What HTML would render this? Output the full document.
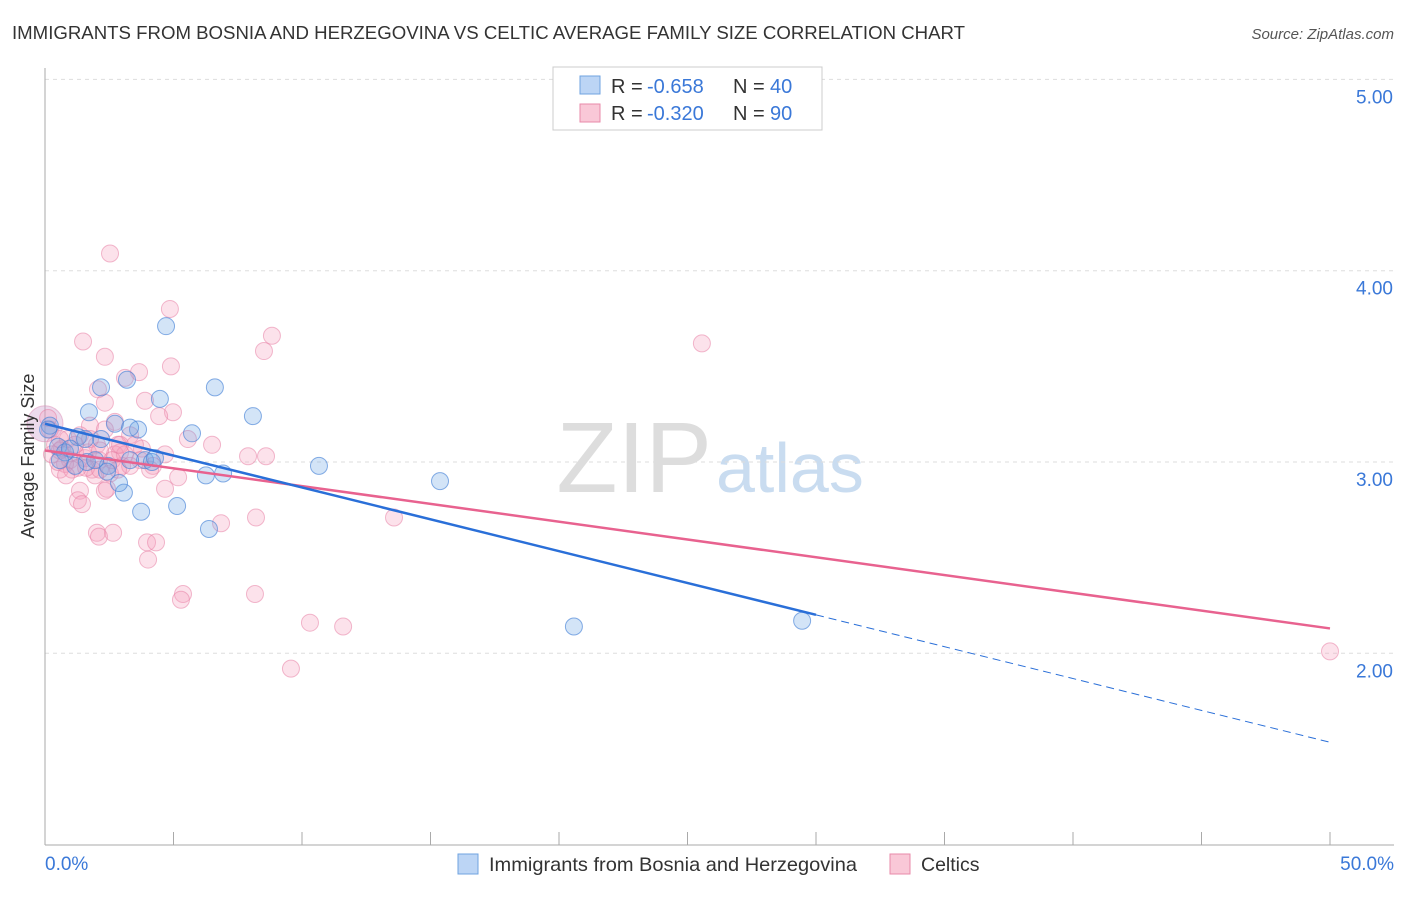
<!DOCTYPE html>
<html><head><meta charset="utf-8"><style>
body{margin:0;background:#fff;font-family:"Liberation Sans",sans-serif;}
svg text{font-family:"Liberation Sans",sans-serif;}
</style></head><body>
<svg id="chart" width="1406" height="892" xmlns="http://www.w3.org/2000/svg">
<text x="12" y="39" font-size="18" fill="#333" textLength="953" lengthAdjust="spacingAndGlyphs">IMMIGRANTS FROM BOSNIA AND HERZEGOVINA VS CELTIC AVERAGE FAMILY SIZE CORRELATION CHART</text>
<text x="1394" y="39" font-size="15" fill="#555" font-style="italic" text-anchor="end">Source: ZipAtlas.com</text>
<text x="712" y="492" font-size="100" fill="#ddd" font-family="Liberation Serif" text-anchor="end">ZIP</text>
<text x="716" y="492" font-size="70" fill="#c9dcf0">atlas</text>
<g id="grid"></g>
<g id="axes"></g>
<g id="marks"></g>
<text transform="translate(34,456) rotate(-90)" font-size="18" fill="#333" text-anchor="middle">Average Family Size</text>
<g>
<rect x="553" y="67" width="269" height="63" fill="#fff" stroke="#ccc"/>
<rect x="580" y="76" width="20" height="18" fill="#bcd5f5" stroke="#6fa3e0"/>
<text x="611" y="93" font-size="20" fill="#333">R =</text>
<text x="647" y="93" font-size="20" fill="#3a78d8">-0.658</text>
<text x="733" y="93" font-size="20" fill="#333">N =</text>
<text x="770" y="93" font-size="20" fill="#3a78d8">40</text>
<rect x="580" y="104" width="20" height="18" fill="#f9c8d7" stroke="#e88aaa"/>
<text x="611" y="120" font-size="20" fill="#333">R =</text>
<text x="647" y="120" font-size="20" fill="#3a78d8">-0.320</text>
<text x="733" y="120" font-size="20" fill="#333">N =</text>
<text x="770" y="120" font-size="20" fill="#3a78d8">90</text>
</g>
<g>
<rect x="458" y="854" width="20" height="20" fill="#bcd5f5" stroke="#6fa3e0"/>
<text x="489" y="871" font-size="19.5" fill="#333" textLength="368" lengthAdjust="spacingAndGlyphs">Immigrants from Bosnia and Herzegovina</text>
<rect x="890" y="854" width="20" height="20" fill="#f9c8d7" stroke="#e88aaa"/>
<text x="921" y="871" font-size="19.5" fill="#333">Celtics</text>
</g>
</svg>
<script>
const yTicks=[2,3,4,5];
const yTickLabels=["2.00","3.00","4.00","5.00"];
const xTickLabels=["0.0%","50.0%"];
const blueX=[2.18,3.19,4.71,4.47,6.61,8.09,1.71,2.72,3.62,3.31,5.72,1.28,2.18,0.51,0.78,1.63,2.45,3.07,2.88,3.74,5.14,3.89,4.16,2.41,6.38,6.26,6.93,10.66,15.37,20.58,29.46,0.19,0.12,0.97,1.95,0.58,3.31,1.56,1.17,4.28];
const blueY=[3.39,3.43,3.71,3.33,3.39,3.24,3.26,3.20,3.17,3.18,3.15,3.13,3.12,3.08,3.05,3.00,2.98,2.84,2.89,2.74,2.77,3.01,3.00,2.95,2.65,2.93,2.94,2.98,2.90,2.14,2.17,3.19,3.17,3.07,3.01,3.01,3.01,3.12,2.98,3.02];
const pinkX=[2.53,4.86,8.83,8.52,1.48,2.33,4.90,3.66,3.11,2.06,2.33,3.89,4.98,4.44,2.72,1.75,5.56,6.50,3.31,2.02,2.84,7.90,8.60,2.92,3.77,0.66,1.17,1.56,0.97,2.10,0.58,1.28,0.78,4.20,5.18,3.00,2.53,1.36,2.41,4.67,1.28,1.44,2.33,6.85,8.21,13.58,2.02,2.10,2.65,3.97,4.32,4.01,5.37,5.29,8.17,10.31,11.60,9.57,25.56,50.0,0.12,0.19,0.39,0.27,0.89,1.83,0.58,1.05,1.67,2.72,3.11,2.92,2.14,3.50,3.70,2.33,1.36,1.95,0.58,3.31,4.67,4.09,0.51,0.82,1.60,2.61,2.84,1.17,1.75,2.14];
const pinkY=[4.09,3.80,3.66,3.58,3.63,3.55,3.50,3.47,3.44,3.38,3.31,3.32,3.26,3.24,3.21,3.19,3.12,3.09,3.14,3.09,3.09,3.03,3.03,3.05,3.07,3.07,3.05,3.02,3.01,3.01,2.96,2.97,2.99,2.98,2.92,2.98,2.94,2.85,2.86,2.86,2.80,2.78,2.85,2.68,2.71,2.71,2.63,2.61,2.63,2.58,2.58,2.49,2.31,2.28,2.31,2.16,2.14,1.92,3.62,2.01,3.23,3.17,3.09,3.04,3.12,2.96,3.06,2.96,3.05,3.04,3.04,3.09,3.06,3.09,3.01,3.17,3.14,2.93,3.12,2.98,3.04,2.96,3.00,2.93,2.97,3.01,2.96,3.09,3.12,2.96];
const blueTrend=[3.20,-0.0333];
const pinkTrend=[3.06,-0.0186];
const NS="http://www.w3.org/2000/svg";
const X0=45,X1=1330,YB=845;
function xs(v){return X0+(X1-X0)*v/50;}
function ys(v){return 462-(v-3)*191.3;}
function mk(tag,attrs,parent){const e=document.createElementNS(NS,tag);for(const k in attrs)e.setAttribute(k,attrs[k]);parent.appendChild(e);return e;}
const grid=document.getElementById('grid'),axes=document.getElementById('axes'),marks=document.getElementById('marks');
yTicks.forEach((t,i)=>{
 const l=mk('line',{x1:X0,x2:1394,y1:ys(t),y2:ys(t),stroke:'#ddd','stroke-dasharray':'4,4'},grid);
 
 
 const tx=mk('text',{x:1393,y:ys(t)+24,'font-size':19,fill:'#3a78d8','text-anchor':'end'},axes);
 tx.textContent=yTickLabels[i];
 
 
});
const al=mk('line',{x1:X0,x2:X0,y1:68,y2:YB,stroke:'#aaa'},axes);


const bl=mk('line',{x1:X0,x2:1394,y1:YB,y2:YB,stroke:'#aaa'},axes);


for(let i=0;i<=10;i++){
 const t=mk('line',{x1:xs(i*5),x2:xs(i*5),y1:832,y2:YB,stroke:'#aaa'},axes);
 
 
}
[[0,'start',45],[50,'end',1394]].forEach((d,i)=>{
 const t=mk('text',{x:d[2],y:870,'font-size':19,fill:'#3a78d8','text-anchor':d[1]},axes);
 t.textContent=xTickLabels[i];
 
 
});
const big=mk('circle',{cx:xs(0),cy:ys(3.2),r:18,fill:'rgba(200,150,200,0.35)',stroke:'rgba(220,140,180,0.5)'},marks);


pinkX.forEach((x,i)=>{
 const c=mk('circle',{cx:xs(x),cy:ys(pinkY[i]),r:8.5,fill:'rgba(245,160,190,0.3)',stroke:'rgba(232,130,165,0.55)'},marks);
 
 
});
blueX.forEach((x,i)=>{
 const c=mk('circle',{cx:xs(x),cy:ys(blueY[i]),r:8.5,fill:'rgba(110,165,230,0.3)',stroke:'rgba(70,130,215,0.65)'},marks);
 
 
});
const pl=mk('line',{x1:xs(0),y1:ys(pinkTrend[0]),x2:xs(50),y2:ys(pinkTrend[0]+pinkTrend[1]*50),stroke:'#e8628f','stroke-width':2.5},marks);


const bs=mk('line',{x1:xs(0),y1:ys(blueTrend[0]),x2:xs(30),y2:ys(blueTrend[0]+blueTrend[1]*30),stroke:'#2a6fd8','stroke-width':2.5},marks);


const bd=mk('line',{x1:xs(30),y1:ys(blueTrend[0]+blueTrend[1]*30),x2:xs(50),y2:ys(blueTrend[0]+blueTrend[1]*50),stroke:'#2a6fd8','stroke-width':1,'stroke-dasharray':'8,5'},marks);


</script>
</body></html>
